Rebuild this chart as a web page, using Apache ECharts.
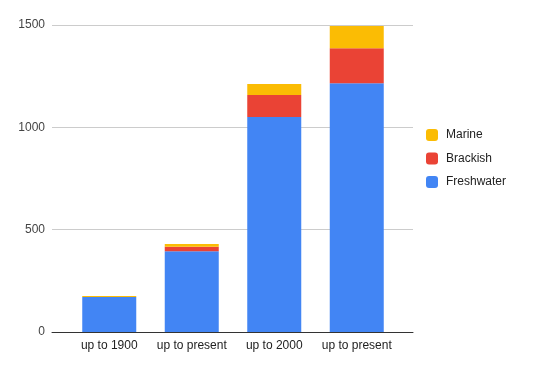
<!DOCTYPE html>
<html>
<head>
<meta charset="utf-8">
<script src="https://cdn.jsdelivr.net/npm/echarts@6/dist/echarts.min.js"></script>
<style>html,body{margin:0;padding:0;background:#fff}#c{width:536px;height:371px}</style>
</head>
<body>
<div id="c"></div>
<script>
var categories = ['up to 1900', 'up to present', 'up to 2000', 'up to present'];
var freshwater = [171, 395, 1050, 1216];
var brackish = [0, 22, 108, 171];
var marine = [5, 13, 54, 108];
var yTicks = [0, 500, 1000, 1500];

var chart = echarts.init(document.getElementById('c'));
var font = 'Arial, "Liberation Sans", sans-serif';
chart.setOption({
  animation: false,
  color: ['#4285F4', '#EA4335', '#FBBC04'],
  textStyle: { fontFamily: font },
  grid: [
    { left: 52, right: 123, top: 25, bottom: 39 },
    { left: 68, right: 138, top: 25, bottom: 39 }
  ],
  legend: {
    orient: 'vertical', left: 426, top: 129, padding: 0,
    itemWidth: 12, itemHeight: 12, itemGap: 11.5,
    icon: 'roundRect',
    data: ['Marine', 'Brackish', 'Freshwater'],
    textStyle: { color: '#222', fontSize: 12, fontFamily: font, padding: [0, 0, 0, 3] }
  },
  xAxis: [
    { type: 'category', gridIndex: 0, data: categories,
      axisLine: { show: true, lineStyle: { color: '#333', width: 1 } },
      axisTick: { show: false }, axisLabel: { show: false }, splitLine: { show: false } },
    { type: 'category', gridIndex: 1, data: categories,
      axisLine: { show: false }, axisTick: { show: false },
      axisLabel: { color: '#222', fontSize: 12, fontFamily: font, margin: 8, interval: 0 } }
  ],
  yAxis: [
    { type: 'value', gridIndex: 0, min: yTicks[0], max: yTicks[yTicks.length - 1], interval: 500,
      axisLine: { show: false }, axisTick: { show: false },
      axisLabel: { color: '#444', fontSize: 12, fontFamily: font, margin: 7,
        formatter: function (v) { return String(v); } },
      splitLine: { lineStyle: { color: '#cccccc', width: 1 } } },
    { type: 'value', gridIndex: 1, min: yTicks[0], max: yTicks[yTicks.length - 1], interval: 500,
      show: false, splitLine: { show: false } }
  ],
  series: [
    { name: 'Freshwater', type: 'bar', stack: 's', xAxisIndex: 1, yAxisIndex: 1, data: freshwater, barWidth: 54, itemStyle: { color: '#4285F4' } },
    { name: 'Brackish', type: 'bar', stack: 's', xAxisIndex: 1, yAxisIndex: 1, data: brackish, barWidth: 54, itemStyle: { color: '#EA4335' } },
    { name: 'Marine', type: 'bar', stack: 's', xAxisIndex: 1, yAxisIndex: 1, data: marine, barWidth: 54, itemStyle: { color: '#FBBC04' } }
  ]
});
</script>
</body>
</html>
